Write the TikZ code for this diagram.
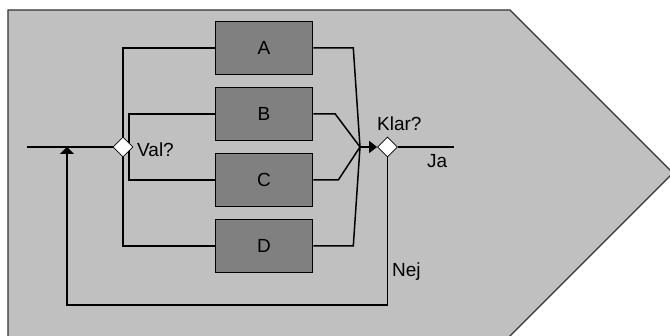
\documentclass[tikz,border=0pt]{standalone}
\usepackage{fontspec}
\setmainfont{Liberation Sans}
\usetikzlibrary{shapes.geometric,arrows.meta,backgrounds}
\definecolor{panelgray}{HTML}{C0C0C0}
\definecolor{boxgray}{HTML}{808080}
\definecolor{edgegray}{HTML}{333333}
\begin{document}
\begin{tikzpicture}[x=1pt,y=-1pt,
  wire/.style={line width=1.5pt, draw=black},
  tip/.style={-{Triangle[width=12pt,length=8pt]}},
  flattip/.style={-{Triangle[width=14pt,length=7pt]}},
  taskbox/.style={draw=black, line width=1.6pt, fill=boxgray, minimum width=97pt,
    minimum height=53pt, inner sep=0pt, font=\fontsize{19}{22}\selectfont},
  choice/.style={diamond, draw=black, line width=0.8pt, fill=white,
    minimum width=20pt, minimum height=20pt, inner sep=0pt},
  lbl/.style={inner sep=0pt, font=\fontsize{19}{22}\selectfont}]
\useasboundingbox (0,0) rectangle (670,336);

% process tasks
\node[taskbox] (a) at (264,48)  {A};
\node[taskbox] (b) at (264,114) {B};
\node[taskbox] (c) at (264,180) {C};
\node[taskbox] (d) at (264,246) {D};

% decision points
\node[choice] (val)  at (123,147) {};
\node[choice] (klar) at (387.5,147) {};

% labels
\node[lbl, anchor=west] (valtxt)  at (137,150) {Val?};
\node[lbl, anchor=west] (klartxt) at (377,124) {Klar?};
\node[lbl, anchor=west] (jatxt)   at (427,161) {Ja};
\node[lbl, anchor=west] (nejtxt)  at (392,272) {Nej};

% free ends and bends
\coordinate (in)  at (27,147);
\coordinate (out) at (454,147);
\coordinate (vin) at (129,147);
\coordinate (m)   at (360,147);
\coordinate (fbc) at (67,305);

\begin{scope}[on background layer]
  % arrow-shaped panel, running off the lower edge
  \fill[panelgray] (8,10) -- (510,10) -- (673,173) -- (506,340) -- (8,340) -- cycle;
  \draw[edgegray, line width=1.4pt]
    (8,340) -- (8,10) -- (510,10) -- (673,173) -- (506,340);

  % input and branches
  \draw[wire] (in) -- (val.west);
  \draw[wire] (val.north) |- (a.west);
  \draw[wire] (val.south) |- (d.west);
  \draw[wire] (b.west) -| (vin) |- (c.west);

  % merge into the check
  \draw[wire] (a.east) -- ++(40,0) -- (m);
  \draw[wire] (b.east) -- ++(22,0) -- (m);
  \draw[wire] (c.east) -- ++(25,0) -- (m);
  \draw[wire] (d.east) -- ++(40,0) -- (m);
  \draw[wire, tip] (m) -- (klar.west);

  % exit and feedback loop
  \draw[wire] (klar.east) -- (out);
  \draw[wire, flattip] (klar.south) |- (fbc) -- (fbc |- in);
\end{scope}
\end{tikzpicture}
\end{document}
